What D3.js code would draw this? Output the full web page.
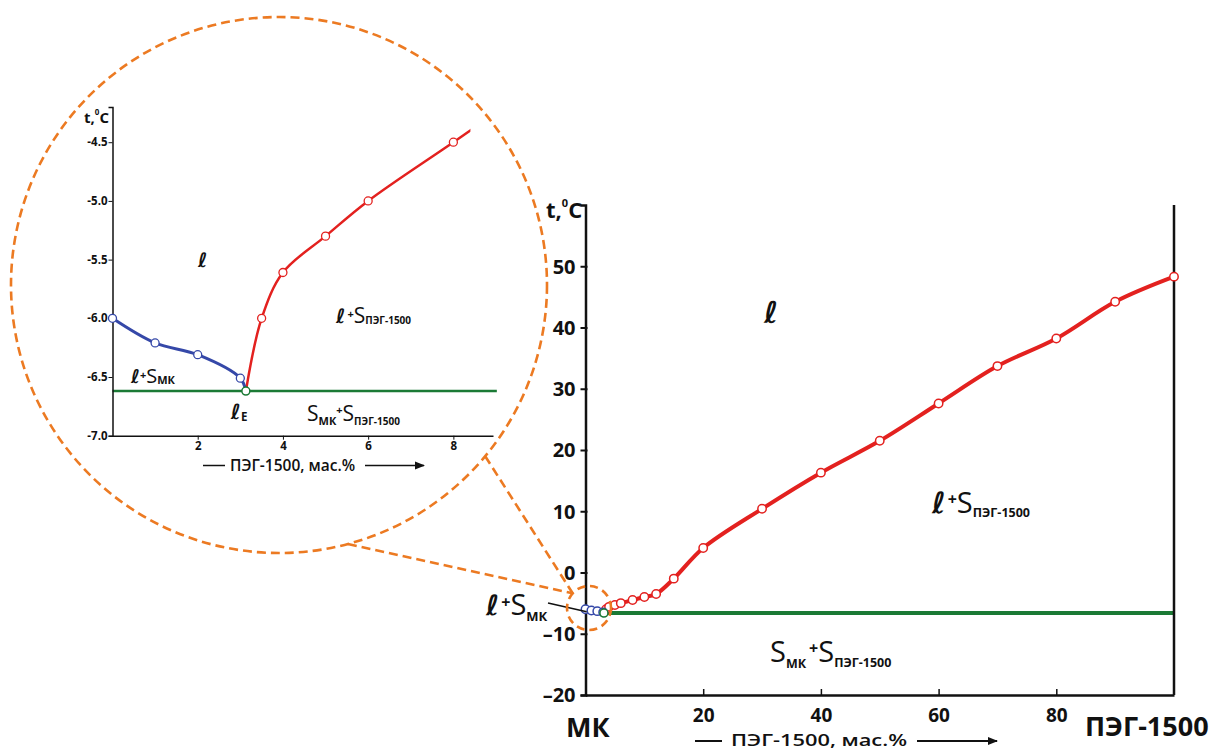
<!DOCTYPE html>
<html><head><meta charset="utf-8">
<script src="https://cdn.jsdelivr.net/npm/d3@7"></script>
<style>
html,body{margin:0;padding:0;background:#fff;}
svg{display:block;}
text{font-family:"Open Sans","Noto Sans",sans-serif;fill:#111;}
</style></head>
<body>
<svg id="c" width="1219" height="751"></svg>
<script>
// ---------- data ----------
const blueX = [0, 1, 2, 3];
const blueT = [-6.0, -6.21, -6.31, -6.51];
const eutecticX = [3.13];
const eutecticT = [-6.62];
const redX = [3.5, 4, 5, 6, 8, 10, 12, 15, 20, 30, 40, 50, 60, 70, 80, 90, 100];
const redT = [-6.0, -5.61, -5.3, -5.0, -4.5, -4.0, -3.5, -1.0, 4.0, 10.4, 16.3, 21.5, 27.6, 33.7, 38.2, 44.2, 48.3];
const mainYTicks = [-20, -10, 0, 10, 20, 30, 40, 50];
const mainXTicks = [20, 40, 60, 80];
const insetYTicks = [-7.0, -6.5, -6.0, -5.5, -5.0, -4.5];
const insetXTicks = [2, 4, 6, 8];
const zoomCenter = [0.6, -5.8];

const RED = "#e3211f", BLUE = "#3548a8", GREEN = "#1b7a35", ORANGE = "#ec7a22";

const svg = d3.select("#c");
const defs = svg.append("defs");
defs.append("marker").attr("id","arr").attr("viewBox","0 0 10 10").attr("refX",9).attr("refY",5)
  .attr("markerWidth",10).attr("markerHeight",10).attr("markerUnits","userSpaceOnUse").attr("orient","auto")
  .append("path").attr("d","M0,1 L10,5 L0,9 Z").attr("fill","#111");

const blue = blueX.map((x,i)=>[x, blueT[i]]);
const eut = [eutecticX[0], eutecticT[0]];
const red = redX.map((x,i)=>[x, redT[i]]);

// ---------- label helper ----------
function label(g, x, y, parts, anchor){
  const t = g.append("text").attr("x", x).attr("y", y).attr("text-anchor", anchor||"start");
  parts.forEach(p=>{
    const s = t.append("tspan").text(p.t)
      .attr("font-size", p.size)
      .attr("font-weight", p.w||"normal")
      .attr("font-style", p.it?"oblique":"normal");
    if (p.dy) s.attr("dy", p.dy);
    if (p.dx) s.attr("dx", p.dx);
    if (p.f) s.attr("font-family", p.f);
  });
  return t;
}
const ELL = "ℓ";
const ellF = "DejaVu Sans";

// ================= MAIN CHART =================
const mx = d3.scaleLinear().domain([0,100]).range([585.5,1174]);
const my = d3.scaleLinear().domain([-20,60]).range([695,205]);
const main = svg.append("g");

const lineM = d3.line().x(d=>mx(d[0])).y(d=>my(d[1])).curve(d3.curveCatmullRom.alpha(0.5));

main.append("line").attr("x1",mx(eut[0])).attr("x2",mx(100)).attr("y1",my(eut[1])).attr("y2",my(eut[1]))
  .attr("stroke",GREEN).attr("stroke-width",4);
main.append("path").attr("d",lineM([eut].concat(red))).attr("fill","none").attr("stroke",RED).attr("stroke-width",4);
main.append("path").attr("d",lineM(blue.concat([eut]))).attr("fill","none").attr("stroke",BLUE).attr("stroke-width",2.5);

const yAx = main.append("g").attr("transform",`translate(${mx(0)},0)`)
  .call(d3.axisLeft(my).tickValues(mainYTicks).tickSize(5).tickFormat(d=>d<0?"–"+Math.abs(d):d));
yAx.select(".domain").attr("stroke","#111").attr("stroke-width",2.5);
yAx.selectAll(".tick line").attr("stroke","#111").attr("stroke-width",2).attr("x2",-5).attr("x1",2);
yAx.selectAll(".tick text").attr("font-size",20).attr("font-weight","bold").attr("fill","#111")
  .attr("font-family","Open Sans").attr("x",-10).attr("dy","0.34em");
const xAx = main.append("g").attr("transform",`translate(0,${my(-20)})`)
  .call(d3.axisBottom(mx).tickValues(mainXTicks).tickSize(-6).tickSizeOuter(0).tickFormat(d3.format("d")));
xAx.select(".domain").attr("stroke","#111").attr("stroke-width",2.5);
xAx.selectAll(".tick line").attr("stroke","#111").attr("stroke-width",1.5);
xAx.selectAll(".tick text").attr("font-size",19).attr("font-weight","bold").attr("fill","#111")
  .attr("y",26.5).attr("dy",0);
main.append("line").attr("x1",mx(100)).attr("x2",mx(100)).attr("y1",my(60)).attr("y2",my(-20))
  .attr("stroke","#111").attr("stroke-width",2.5);

function markers(g, pts, sx, sy, color, r, sw){
  g.selectAll(null).data(pts).enter().append("circle")
    .attr("cx",d=>sx(d[0])).attr("cy",d=>sy(d[1])).attr("r",r)
    .attr("fill","#fff").attr("stroke",color).attr("stroke-width",sw);
}
markers(main, red, mx, my, RED, 4.2, 1.5);
markers(main, blue, mx, my, BLUE, 4.2, 1.5);
markers(main, [eut], mx, my, GREEN, 4, 1.5);

label(main, 546, 218, [{t:"t,",size:22,w:"bold"},{t:"0",size:11,w:"bold",dy:-11},{t:"C",size:22,w:"bold",dy:11}]);
label(main, 566, 737, [{t:"МК",size:27,w:"bold"}]);
label(main, 1085, 736, [{t:"ПЭГ-1500",size:27,w:"bold"}]);
main.append("line").attr("x1",695).attr("x2",722).attr("y1",741).attr("y2",741).attr("stroke","#111").attr("stroke-width",2);
label(main, 731, 745.5, [{t:"ПЭГ-1500, мас.%",size:16.5,w:"600"}])
  .attr("textLength",176).attr("lengthAdjust","spacingAndGlyphs");
main.append("line").attr("x1",917).attr("x2",997).attr("y1",741).attr("y2",741).attr("stroke","#111").attr("stroke-width",2).attr("marker-end","url(#arr)");

label(main, 764, 323, [{t:ELL,size:30,it:true,w:"bold",f:ellF}]);
label(main, 932, 513, [{t:ELL,size:29,it:true,w:"bold",f:ellF},{t:"+",size:16,w:"bold",dx:2,dy:-8},{t:"S",size:29,dy:8},{t:"ПЭГ-1500",size:12.5,w:"bold",dy:4}]);
label(main, 770, 662, [{t:"S",size:29},{t:"МК",size:12.5,w:"bold",dy:6},{t:"+",size:16,w:"bold",dx:3,dy:-14},{t:"S",size:29,dy:8},{t:"ПЭГ-1500",size:12.5,w:"bold",dy:5}]);
label(main, 486, 615, [{t:ELL,size:28,it:true,w:"bold",f:ellF},{t:"+",size:16,w:"bold",dx:2,dy:-7},{t:"S",size:29,dy:7},{t:"МК",size:13,w:"bold",dy:6}]);
main.append("line").attr("x1",548).attr("y1",603).attr("x2",mx(0.2)).attr("y2",my(-6.4)).attr("stroke","#111").attr("stroke-width",1.5);

// ================= INSET =================
const ix = d3.scaleLinear().domain([0,8.93]).range([112.5,493]);
const iy = d3.scaleLinear().domain([-7,-4.2]).range([435.7,107]);
const ins = svg.append("g");
const lineI = d3.line().x(d=>ix(d[0])).y(d=>iy(d[1])).curve(d3.curveCatmullRom.alpha(0.5));

defs.append("clipPath").attr("id","iclip").append("rect")
  .attr("x",ix(0)).attr("y",0).attr("width",ix(8.4)-ix(0)).attr("height",iy(-7));

ins.append("line").attr("x1",ix(0)).attr("x2",ix(9.02)).attr("y1",iy(eut[1])).attr("y2",iy(eut[1]))
  .attr("stroke",GREEN).attr("stroke-width",2.5);
ins.append("path").attr("d",lineI([eut].concat(red))).attr("clip-path","url(#iclip)")
  .attr("fill","none").attr("stroke",RED).attr("stroke-width",2.5);
ins.append("path").attr("d",lineI(blue.concat([eut]))).attr("fill","none").attr("stroke",BLUE).attr("stroke-width",3);

const iyAx = ins.append("g").attr("transform",`translate(${ix(0)},0)`)
  .call(d3.axisLeft(iy).tickValues(insetYTicks).tickSize(4).tickFormat(d=>"-"+Math.abs(d).toFixed(1)));
iyAx.select(".domain").attr("stroke","#111").attr("stroke-width",1.5);
iyAx.selectAll(".tick line").attr("stroke","#111");
iyAx.selectAll(".tick text").attr("font-size",11.5).attr("font-weight","bold").attr("fill","#111").attr("x",-5);
const ixAx = ins.append("g").attr("transform",`translate(0,${iy(-7)})`)
  .call(d3.axisBottom(ix).tickValues(insetXTicks).tickSize(4).tickSizeOuter(0));
ixAx.select(".domain").attr("stroke","#111").attr("stroke-width",1.5);
ixAx.selectAll(".tick line").attr("stroke","#111");
ixAx.selectAll(".tick text").attr("font-size",11.5).attr("font-weight","bold").attr("fill","#111").attr("y",6);

markers(ins, red.filter(d=>d[0]<=8.4), ix, iy, RED, 4, 1.3);
markers(ins, blue, ix, iy, BLUE, 4, 1.3);
markers(ins, [eut], ix, iy, GREEN, 4, 1.5);

label(ins, 84, 123, [{t:"t,",size:15,w:"bold"},{t:"0",size:8,w:"bold",dy:-8},{t:"C",size:15,w:"bold",dy:8}]);
label(ins, 198, 267, [{t:ELL,size:20,it:true,w:"bold",f:ellF}]);
label(ins, 336, 323, [{t:ELL,size:20,it:true,w:"bold",f:ellF},{t:"+",size:11,w:"bold",dx:2,dy:-5},{t:"S",size:21,dy:5},{t:"ПЭГ-1500",size:10,w:"bold",dy:1}]);
label(ins, 131, 383, [{t:ELL,size:19,it:true,w:"bold",f:ellF},{t:"+",size:11,w:"bold",dy:-4},{t:"S",size:20,dy:4},{t:"МК",size:11,w:"bold",dy:1}]);
label(ins, 231, 419, [{t:ELL,size:21,it:true,w:"bold",f:ellF},{t:"E",size:11.5,w:"bold",dy:2}]);
label(ins, 307, 421, [{t:"S",size:21},{t:"МК",size:11,w:"bold",dy:4},{t:"+",size:11,w:"bold",dy:-11},{t:"S",size:21,dy:7},{t:"ПЭГ-1500",size:10,w:"bold",dy:4}]);
ins.append("line").attr("x1",203).attr("x2",225).attr("y1",465.5).attr("y2",465.5).attr("stroke","#111").attr("stroke-width",1.5);
label(ins, 230, 470.5, [{t:"ПЭГ-1500, мас.%",size:15.5,w:"600"}]);
ins.append("line").attr("x1",365).attr("x2",424).attr("y1",465.5).attr("y2",465.5).attr("stroke","#111").attr("stroke-width",1.5).attr("marker-end","url(#arr)");

// ================= magnifier decoration =================
const bigC = {x:279, y:285, r:268};
const smC = {x:mx(zoomCenter[0]), y:my(zoomCenter[1]), r:22};
const deco = svg.append("g").attr("fill","none").attr("stroke",ORANGE).attr("stroke-width",2.6).attr("stroke-dasharray","9,5");
deco.append("circle").attr("cx",bigC.x).attr("cy",bigC.y).attr("r",bigC.r);
deco.append("circle").attr("cx",smC.x).attr("cy",smC.y).attr("r",smC.r).attr("stroke-dasharray","8,5");
const rad = a=>a*Math.PI/180;
const endP = [smC.x + smC.r*Math.cos(rad(222)), smC.y + smC.r*Math.sin(rad(222))];
[39.7, 75.1].forEach(a=>{
  deco.append("line")
    .attr("x1",bigC.x + bigC.r*Math.cos(rad(a))).attr("y1",bigC.y + bigC.r*Math.sin(rad(a)))
    .attr("x2",endP[0]).attr("y2",endP[1]);
});
</script>
</body></html>
